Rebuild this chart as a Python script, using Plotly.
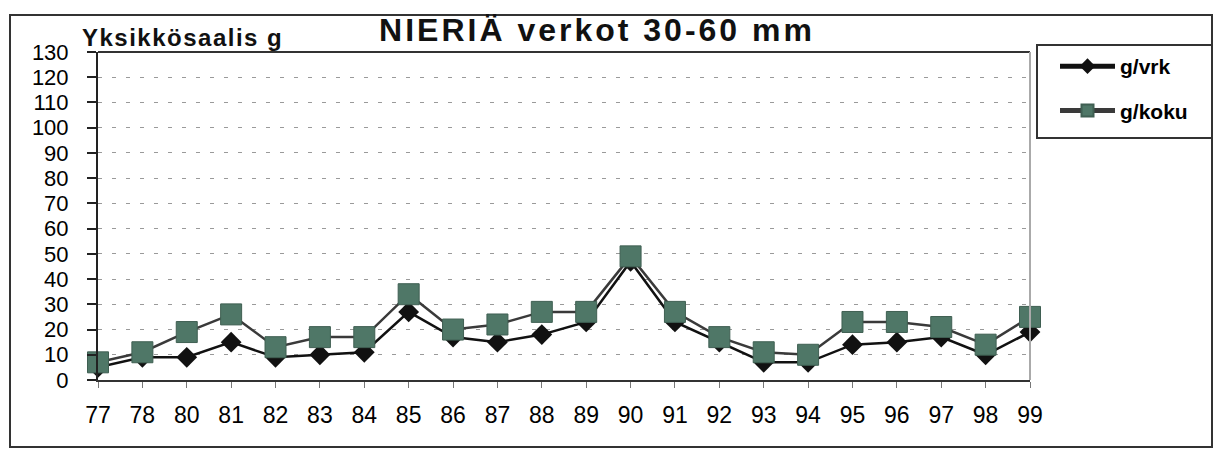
import plotly.graph_objects as go

years = ["77", "78", "80", "81", "82", "83", "84", "85", "86", "87", "88",
         "89", "90", "91", "92", "93", "94", "95", "96", "97", "98", "99"]
g_vrk = [5, 9, 9, 15, 9, 10, 11, 27, 17, 15, 18, 23, 47, 23, 15, 7, 7, 14, 15, 17, 10, 19]
g_koku = [7, 11, 19, 26, 13, 17, 17, 34, 20, 22, 27, 27, 49, 27, 17, 11, 10, 23, 23, 21, 14, 25]
y_ticks = list(range(0, 131, 10))

idx = list(range(len(years)))
FONT = "Liberation Sans, Arial, sans-serif"

fig = go.Figure()
fig.add_trace(go.Scatter(
    x=idx, y=g_vrk, name="g/vrk", mode="lines+markers",
    line=dict(color="#111111", width=2.5),
    marker=dict(symbol="diamond", size=16, color="#111111"),
    cliponaxis=False, legendgroup="a"))
fig.add_trace(go.Scatter(
    x=idx, y=g_koku, name="g/koku", mode="lines+markers",
    line=dict(color="#3a3a3a", width=2.5),
    marker=dict(symbol="square", size=21, color="#4f7767",
                line=dict(color="#3f5f52", width=1)),
    cliponaxis=False, legendgroup="b"))

W, H = 1215, 449
L, R, T, B = 98, 1030, 52, 380
pw, ph = R - L, B - T


def px(x):
    return (x - L) / pw


def py(y):
    return (B - y) / ph


fig.update_layout(
    width=W, height=H,
    margin=dict(l=L, r=W - R, t=T, b=H - B),
    paper_bgcolor="white", plot_bgcolor="white",
    font=dict(family=FONT, color="black"),
    showlegend=True,
    legend=dict(x=px(1055), y=py(46), xanchor="left", yanchor="top",
                bgcolor="rgba(0,0,0,0)", borderwidth=0,
                font=dict(size=21, family=FONT, weight="bold"),
                itemwidth=55,
                traceorder="grouped", tracegroupgap=14, itemsizing="constant"),
    title=dict(text='<b><span style="letter-spacing:3px">NIERIÄ verkot 30-60 mm</span></b>',
               xref="container", x=597 / W, xanchor="center",
               yref="container", y=1 - 30 / H, yanchor="middle",
               font=dict(size=32, family=FONT, color="#111111")),
    xaxis=dict(
        range=[0, len(years) - 1], tickmode="array", tickvals=idx, ticktext=years,
        showgrid=False, zeroline=False, showline=True, linecolor="#333333", linewidth=2,
        ticks="outside", ticklen=6, tickcolor="#777777", tickwidth=1,
        ticklabelstandoff=7,
        tickfont=dict(size=23, family=FONT, color="black")),
    yaxis=dict(
        range=[0, 130], tickmode="array", tickvals=y_ticks,
        showgrid=True, gridcolor="#9a9a9a", gridwidth=1, griddash="4px,10px",
        zeroline=False, showline=True, linecolor="#222222", linewidth=2,
        ticks="outside", ticklen=9, tickcolor="#222222", tickwidth=2,
        ticklabelstandoff=14,
        tickfont=dict(size=22, family=FONT, color="black")),
)

shapes = [
    # outer frame
    dict(type="rect", xref="paper", yref="paper", x0=px(10), x1=px(1212),
         y0=py(447), y1=py(15), line=dict(color="#333333", width=2)),
    # legend box
    dict(type="rect", xref="paper", yref="paper", x0=px(1037), x1=px(1212),
         y0=py(138), y1=py(45), line=dict(color="#333333", width=2)),
    # plot area top border
    dict(type="line", xref="paper", yref="paper", x0=0, x1=1, y0=1, y1=1,
         line=dict(color="#333333", width=2)),
    # plot area right border
    dict(type="line", xref="paper", yref="paper", x0=1, x1=1, y0=0, y1=1,
         line=dict(color="#aaaaaa", width=2)),
]
fig.update_layout(shapes=shapes)

fig.add_annotation(text='<b><span style="letter-spacing:1.5px">Yksikkösaalis g</span></b>',
                   xref="paper", yref="paper",
                   x=px(80), y=py(38), xanchor="left", yanchor="middle",
                   showarrow=False, font=dict(size=24, family=FONT, color="#111111"))

fig.write_html("out.html", config={"displayModeBar": False},
               post_script="document.body.style.margin='0';document.body.style.overflow='hidden';")
